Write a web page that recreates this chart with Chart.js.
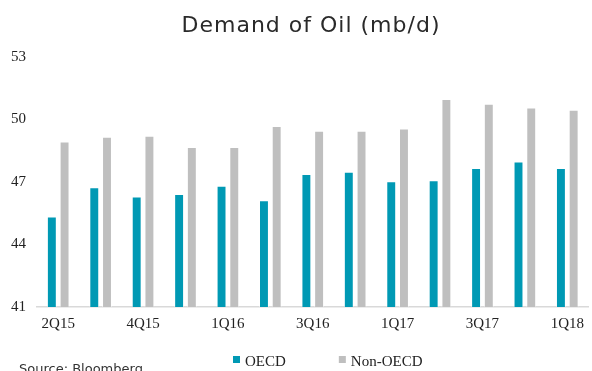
<!DOCTYPE html>
<html>
<head>
<meta charset="utf-8">
<script src="https://cdn.jsdelivr.net/npm/chart.js@4.4.1/dist/chart.umd.min.js"></script>
<style>
  html, body { margin: 0; padding: 0; background: #fff; }
  #wrap { width: 592px; height: 371px; }
</style>
</head>
<body>
<div id="wrap"><canvas id="oil-chart" width="592" height="371"></canvas></div>
<script>
// quarters on the x axis (only every other one is labelled in the source)
const quarters = ['2Q15', '3Q15', '4Q15', '2015', '1Q16', '2Q16', '3Q16', '4Q16', '1Q17', '2Q17', '3Q17', '4Q17', '1Q18'];
const oecd = [45.34, 46.75, 46.30, 46.42, 46.82, 46.13, 47.38, 47.49, 47.04, 47.09, 47.67, 47.99, 47.67];
const nonOecd = [48.95, 49.17, 49.22, 48.68, 48.68, 49.69, 49.46, 49.46, 49.57, 50.98, 50.76, 50.58, 50.47];
const yMin = 41;
const yMax = 53;
const yStep = 3;

const serif = '"Liberation Serif", "Times New Roman", serif';
const sans = '"DejaVu Sans", "Noto Sans", sans-serif';

// title, bottom legend and source note
const extras = {
  id: 'extras',
  afterDraw(chart) {
    const ctx = chart.ctx;
    ctx.save();
    ctx.fillStyle = '#2a2a2a';
    ctx.font = '22px ' + sans;
    ctx.letterSpacing = '1px';
    ctx.textAlign = 'center';
    ctx.textBaseline = 'alphabetic';
    ctx.fillText('Demand of Oil (mb/d)', 311, 32);
    ctx.letterSpacing = '0px';

    ctx.textAlign = 'left';
    ctx.font = '15px ' + serif;
    let x = 233;
    chart.data.datasets.forEach((ds) => {
      ctx.fillStyle = ds.backgroundColor;
      ctx.fillRect(x, 356, 7, 7);
      ctx.fillStyle = '#222';
      ctx.fillText(ds.label, x + 12, 366);
      x += 12 + ctx.measureText(ds.label).width + 53;
    });

    ctx.font = '13px ' + sans;
    ctx.fillStyle = '#333';
    ctx.fillText('Source: Bloomberg', 19, 373);
    ctx.restore();
  }
};

new Chart(document.getElementById('oil-chart'), {
  type: 'bar',
  data: {
    labels: quarters,
    datasets: [
      {
        label: 'OECD',
        data: oecd,
        backgroundColor: '#0099b4',
        borderColor: 'rgba(255,255,255,0.45)',
        borderWidth: 1,
        categoryPercentage: 0.6,
        barPercentage: 0.78,
      },
      {
        label: 'Non-OECD',
        data: nonOecd,
        backgroundColor: '#bfbfbf',
        borderColor: 'rgba(255,255,255,0.45)',
        borderWidth: 1,
        categoryPercentage: 0.6,
        barPercentage: 0.78,
      },
    ],
  },
  options: {
    responsive: false,
    animation: false,
    devicePixelRatio: 1,
    layout: { padding: { top: 57, left: 0, right: 1, bottom: 30 } },
    plugins: {
      legend: { display: false },
      title: { display: false },
      tooltip: { enabled: false },
    },
    scales: {
      x: {
        grid: { display: false, drawTicks: false },
        border: { color: '#d9d9d9', width: 1.5 },
        ticks: {
          color: '#222',
          font: { family: serif, size: 15 },
          autoSkip: false,
          maxRotation: 0,
          padding: 8,
          callback: (value, index) => (index % 2 === 0 ? quarters[index] : ''),
        },
      },
      y: {
        min: yMin,
        max: yMax,
        grid: { display: false, drawTicks: false },
        border: { display: false },
        ticks: {
          stepSize: yStep,
          color: '#222',
          font: { family: serif, size: 15 },
          padding: 11,
        },
      },
    },
  },
  plugins: [extras],
});
</script>
</body>
</html>
